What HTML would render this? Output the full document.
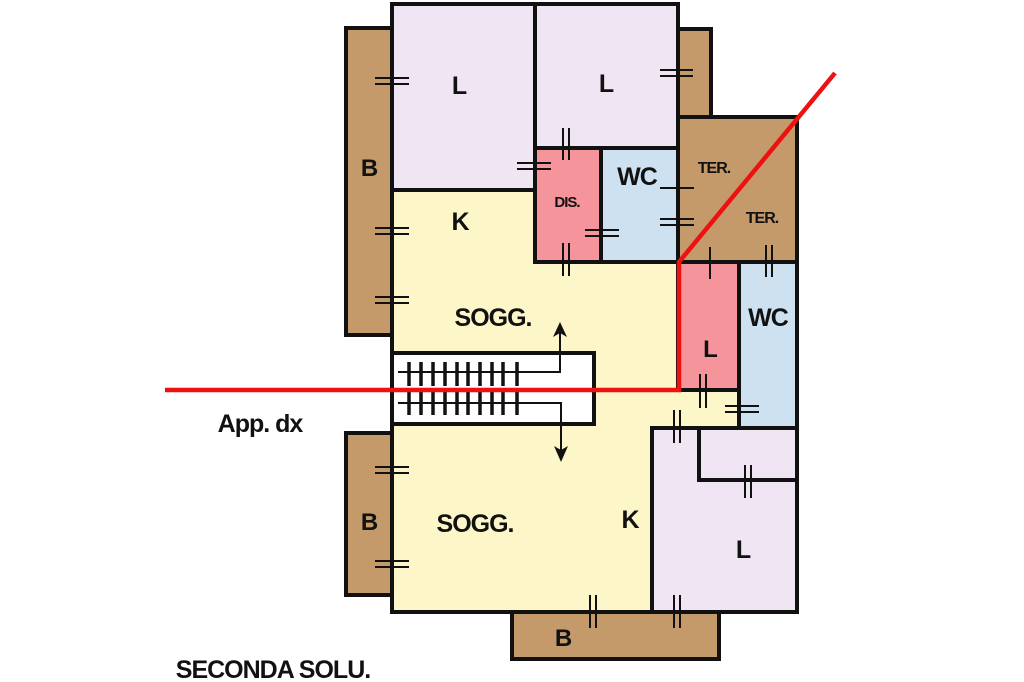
<!DOCTYPE html>
<html><head><meta charset="utf-8"><style>
html,body{margin:0;padding:0;background:#fff;}
svg{display:block;}
text{font-family:"Liberation Sans",sans-serif;font-weight:bold;fill:#111;letter-spacing:-1px;}
</style></head><body>
<svg width="1024" height="682" viewBox="0 0 1024 682" xmlns="http://www.w3.org/2000/svg">
<g stroke="#111" stroke-width="4">
<rect x="346" y="28" width="46" height="307" fill="#c49a6a"/>
<rect x="678" y="29" width="33" height="89" fill="#c49a6a"/>
<rect x="678" y="117" width="119" height="145" fill="#c49a6a"/>
<rect x="346" y="433" width="46" height="162" fill="#c49a6a"/>
<rect x="512" y="612" width="207" height="47" fill="#c49a6a"/>
<polygon points="392,190 678,190 678,390 739,390 739,428 652,428 652,612 392,612" fill="#fdf6c9"/>
<rect x="392" y="4" width="143" height="186" fill="#f0e5f2"/>
<rect x="535" y="4" width="143" height="144" fill="#f0e5f2"/>
<rect x="535" y="148" width="66" height="114" fill="#f6949c"/>
<rect x="601" y="148" width="77" height="114" fill="#cde1f0"/>
<rect x="678" y="262" width="61" height="128" fill="#f6949c"/>
<rect x="739" y="262" width="58" height="166" fill="#cde1f0"/>
<rect x="652" y="428" width="145" height="184" fill="#f0e5f2"/>
<polyline points="699,428 699,480 797,480" fill="none"/>
<rect x="392" y="353" width="202" height="71" fill="#fff"/>
</g>
<g stroke="#111" stroke-width="2" fill="none">
<path d="M375 78h34M375 84h34 M375 228h34M375 234h34 M375 297h34M375 303h34 M375 467h34M375 473h34 M375 561h34M375 567h34 M660 70h33M660 76h33 M517 163h34M517 169h34 M585 230h34M585 236h34 M660 219h34M660 225h34 M660 188h34 M725 406h34M725 412h34"/>
<path d="M563 128v32M569 128v32 M563 243v33M569 243v33 M710 247v32 M766 245v32M772 245v32 M700 374v34M706 374v34 M674 410v33M680 410v33 M745 465v33M751 465v33 M590 595v33M596 595v33 M674 595v33M680 595v33"/>
</g>
<g stroke="#111" stroke-width="3.5">
<path d="M409 362v24M421 362v24M433 362v24M445 362v24M457 362v24M468 362v24M480 362v24M492 362v24M503 362v24M517 362v24"/>
<path d="M409 392v23M421 392v23M433 392v23M445 392v23M457 392v23M468 392v23M480 392v23M492 392v23M503 392v23M517 392v23"/>
</g>
<g stroke="#111" stroke-width="2" fill="none">
<polyline points="398,372 560,372 560,332"/>
<polyline points="398,403 561,403 561,452"/>
</g>
<polygon points="560,322 553,337 560,333 567,337" fill="#111"/>
<polygon points="561,462 554,446 561,450 568,446" fill="#111"/>
<polyline points="165,390 679,390 679,262 835,73" fill="none" stroke="#ee1111" stroke-width="4.5"/>
<text x="369" y="176" font-size="24" text-anchor="middle">B</text>
<text x="459" y="94" font-size="25" text-anchor="middle">L</text>
<text x="606" y="92" font-size="25" text-anchor="middle">L</text>
<text x="567" y="207" font-size="15" text-anchor="middle">DIS.</text>
<text x="637" y="185" font-size="25" text-anchor="middle">WC</text>
<text x="714" y="173" font-size="16" text-anchor="middle">TER.</text>
<text x="762" y="223" font-size="16" text-anchor="middle">TER.</text>
<text x="460" y="230" font-size="25" text-anchor="middle">K</text>
<text x="493" y="326" font-size="25" text-anchor="middle">SOGG.</text>
<text x="768" y="326" font-size="25" text-anchor="middle">WC</text>
<text x="710" y="357" font-size="24" text-anchor="middle">L</text>
<text x="260" y="432" font-size="25" text-anchor="middle">App. dx</text>
<text x="369" y="530" font-size="24" text-anchor="middle">B</text>
<text x="475" y="532" font-size="25" text-anchor="middle">SOGG.</text>
<text x="630" y="528" font-size="25" text-anchor="middle">K</text>
<text x="743" y="558" font-size="25" text-anchor="middle">L</text>
<text x="563" y="646" font-size="24" text-anchor="middle">B</text>
<text x="273" y="678" font-size="25" text-anchor="middle">SECONDA SOLU.</text>
</svg>
</body></html>
